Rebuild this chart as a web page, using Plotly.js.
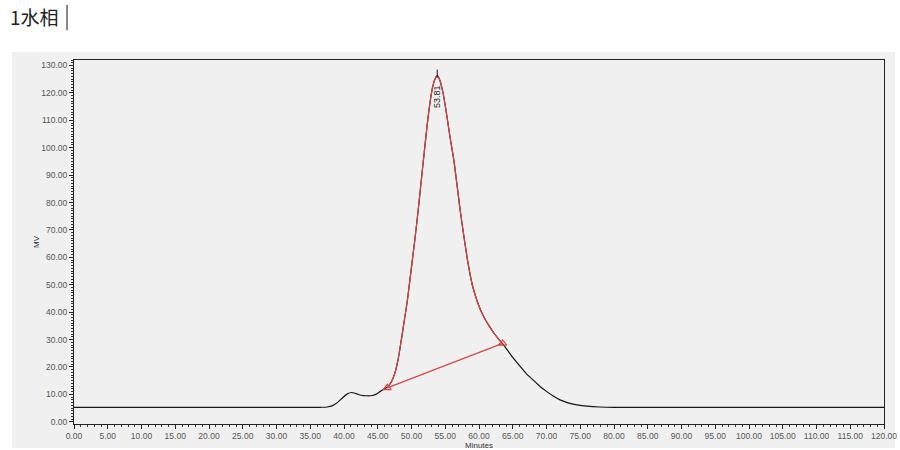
<!DOCTYPE html>
<html>
<head>
<meta charset="utf-8">
<script src="https://cdn.plot.ly/plotly-3.0.1.min.js"></script>
<style>
  body { margin: 0; background: #fff; }
  #plot-area { width: 900px; height: 450px; }
</style>
</head>
<body>
<div id="plot-area"></div>
<script>
// chromatogram signal (minutes, mV)
const minutes = [0, 36.5, 37.5, 38.3, 39.0, 39.8, 40.5, 41.1, 41.8, 42.5, 43.4, 44.2, 44.8, 45.4, 46.0,
  46.4, 47.0, 47.5, 48.0, 48.5, 49.0, 49.4, 50.0, 50.5, 51.0, 51.7, 52.5, 53.1, 53.5, 53.81,
  54.2, 54.7, 55.2, 55.7, 56.3, 57.2, 57.8, 58.4, 59.0, 59.6, 60.2, 60.9, 61.5, 62.2, 62.9, 63.5,
  64.1, 65.0, 66.1, 67.0, 68.0, 69.0, 70.0, 71.0, 72.0, 73.2, 74.5, 76.0, 77.9, 80, 120];
const signal = [5.3, 5.3, 5.4, 5.9, 7.0, 8.8, 10.2, 10.7, 10.3, 9.7, 9.5, 9.6, 10.1, 11.1, 12.0,
  12.6, 14.5, 17.5, 22.5, 30, 38, 44.5, 56.5, 66.5, 77.4, 94, 112, 121.8, 125.2, 126.3,
  124.6, 119.6, 112.2, 104, 95, 77.4, 67, 57.5, 50, 45, 41, 37.4, 35, 32.4, 30.2, 28.4,
  26.5, 23.5, 20.2, 17.6, 15.3, 13.0, 11.1, 9.4, 8.0, 6.9, 6.2, 5.7, 5.4, 5.3, 5.3];

// integrated peak
const peakStart = 46.4;
const peakEnd = 63.5;
const peakBaseX = [46.4, 63.5];
const peakBaseY = [12.4, 28.6];
const peakRT = 53.81;
const peakTickY = [125.5, 128.5];
const peakLabel = "53.81";
const peakLabelY = 118.6;

const xTicks = [];
for (let v = 0; v <= 120; v += 5) xTicks.push(v);

const i0 = minutes.indexOf(peakStart);
const i1 = minutes.indexOf(peakEnd);

const red = "#dc4444";
const tickFont = { family: "Liberation Sans, Arial", size: 8.5, color: "#555" };

let traces = [
  {
    x: minutes, y: signal, mode: "lines", type: "scatter",
    line: { color: "#151515", width: 1.2, shape: "spline", smoothing: 0.6 },
    hoverinfo: "skip",
  },
  {
    x: minutes.slice(i0, i1 + 1), y: signal.slice(i0, i1 + 1), mode: "lines", type: "scatter",
    line: { color: red, width: 1.2, shape: "spline", smoothing: 0.6 },
    hoverinfo: "skip",
  },
  {
    x: peakBaseX, y: peakBaseY, mode: "lines+markers", type: "scatter",
    line: { color: red, width: 1.2 },
    marker: { symbol: "triangle-up-open", size: 7, color: red, line: { width: 1.2, color: red } },
    hoverinfo: "skip",
  },
  {
    x: [peakRT, peakRT], y: peakTickY, mode: "lines", type: "scatter",
    line: { color: "#151515", width: 1 },
    hoverinfo: "skip",
  },
];

let layout = {
  width: 900,
  height: 450,
  showlegend: false,
  paper_bgcolor: "#ffffff",
  plot_bgcolor: "#f0f0f0",
  margin: { l: 74, r: 16, t: 60, b: 26 },
  title: {
    text: "1水相",
    xref: "container", yref: "container",
    x: 10 / 900, xanchor: "left",
    y: 1 - 18 / 450, yanchor: "middle",
    font: { family: "Noto Sans CJK SC", size: 19, color: "#222" },
  },
  xaxis: {
    range: [0, 120],
    tickvals: xTicks,
    tickformat: ".2f",
    ticks: "outside", ticklen: 4, tickcolor: "#222", tickwidth: 1,
    minor: { dtick: 1, ticks: "outside", ticklen: 2, tickcolor: "#333" },
    showline: true, linecolor: "#222", linewidth: 1, mirror: true,
    showgrid: false, zeroline: false,
    tickfont: tickFont,
    automargin: false,
    title: { text: "Minutes", font: { family: "Liberation Sans, Arial", size: 8, color: "#333" }, standoff: 2 },
  },
  yaxis: {
    range: [-0.8, 132],
    dtick: 10, tick0: 0,
    tickformat: ".2f",
    ticks: "outside", ticklen: 4, tickcolor: "#222", tickwidth: 1,
    minor: { dtick: 1, ticks: "outside", ticklen: 2, tickcolor: "#333" },
    showline: true, linecolor: "#222", linewidth: 1, mirror: true,
    showgrid: false, zeroline: false,
    tickfont: tickFont,
    automargin: false,
    title: { text: "MV", font: { family: "Liberation Sans, Arial", size: 8, color: "#222" }, standoff: 0 },
  },
  annotations: [
    {
      x: peakRT, y: peakLabelY, xref: "x", yref: "y",
      text: peakLabel, showarrow: false, textangle: -90,
      font: { family: "Liberation Sans, Arial", size: 9, color: "#222" },
    },
  ],
  shapes: [
    // gray frame panel behind the chart
    {
      type: "rect", xref: "paper", yref: "paper",
      x0: -0.0765, x1: 1.0136, y0: -0.066, y1: 1.022,
      fillcolor: "#f0f0f0", line: { width: 0 }, layer: "below",
    },
    // text cursor after the title
    {
      type: "line", xref: "paper", yref: "paper",
      x0: -0.0086, x1: -0.0086, y0: 1.082, y1: 1.151,
      line: { color: "#111", width: 1 },
    },
  ],
};

Plotly.newPlot("plot-area", traces, layout, { displayModeBar: false, staticPlot: true });
</script>
</body>
</html>
